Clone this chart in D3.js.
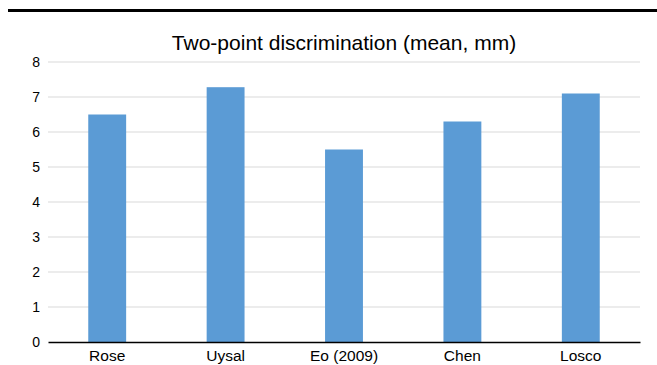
<!DOCTYPE html>
<html>
<head>
<meta charset="utf-8">
<script src="https://cdn.jsdelivr.net/npm/d3@7"></script>
<style>
  body { margin: 0; background: #fff; }
  svg { display: block; font-family: "Liberation Sans", Arial, Helvetica, sans-serif; }
</style>
</head>
<body>
<svg id="chart" width="657" height="365"></svg>
<script>
"use strict";

// chart data
const categories = ['Rose', 'Uysal', 'Eo (2009)', 'Chen', 'Losco'];
const meanValues = [6.5, 7.28, 5.5, 6.3, 7.1];
const yTicks = [0, 1, 2, 3, 4, 5, 6, 7, 8];
const chartTitle = 'Two-point discrimination (mean, mm)';

const svg = d3.select('#chart');
const plot = { left: 48, right: 640, top: 62, bottom: 342 };

// heavy rule across the top
svg.append('line')
  .attr('x1', 8).attr('x2', 657)
  .attr('y1', 10.5).attr('y2', 10.5)
  .attr('stroke', '#000')
  .attr('stroke-width', 3);

let x = d3.scaleBand().domain(categories).range([plot.left, plot.right]).padding(0);
let y = d3.scaleLinear().domain([0, 8]).range([plot.bottom, plot.top]);

// gridlines
svg.append('g')
  .selectAll('line')
  .data(yTicks.filter((t) => t > 0))
  .join('line')
  .attr('x1', plot.left).attr('x2', plot.right)
  .attr('y1', (d) => y(d)).attr('y2', (d) => y(d))
  .attr('stroke', '#d9d9d9')
  .attr('stroke-width', 1.2);

// bars
let barWidth = x.bandwidth() * 0.32;
svg.append('g')
  .selectAll('rect')
  .data(categories)
  .join('rect')
  .attr('x', (d) => x(d) + (x.bandwidth() - barWidth) / 2)
  .attr('width', barWidth)
  .attr('y', (d, i) => y(meanValues[i]))
  .attr('height', (d, i) => y(0) - y(meanValues[i]))
  .attr('fill', '#5b9bd5');

// y axis labels
let yAxis = d3.axisLeft(y).tickValues(yTicks).tickSize(0).tickPadding(8);
let gy = svg.append('g').attr('transform', `translate(${plot.left},0)`).call(yAxis);
gy.select('.domain').remove();
gy.selectAll('text')
  .attr('font-size', 14)
  .attr('font-family', '"Liberation Sans", Arial, sans-serif')
  .attr('fill', '#000');

// x axis
let xAxis = d3.axisBottom(x).tickSize(0).tickPadding(8);
let gx = svg.append('g').attr('transform', `translate(0,${plot.bottom})`).call(xAxis);
gx.select('.domain').attr('stroke', '#000').attr('stroke-width', 1.3);
gx.selectAll('text')
  .attr('font-size', 15.5)
  .attr('font-family', '"Liberation Sans", Arial, sans-serif')
  .attr('fill', '#000');

// title
svg.append('text')
  .attr('x', (plot.left + plot.right) / 2)
  .attr('y', 50)
  .attr('text-anchor', 'middle')
  .attr('font-size', 21)
  .attr('fill', '#000')
  .text(chartTitle);
</script>
</body>
</html>
